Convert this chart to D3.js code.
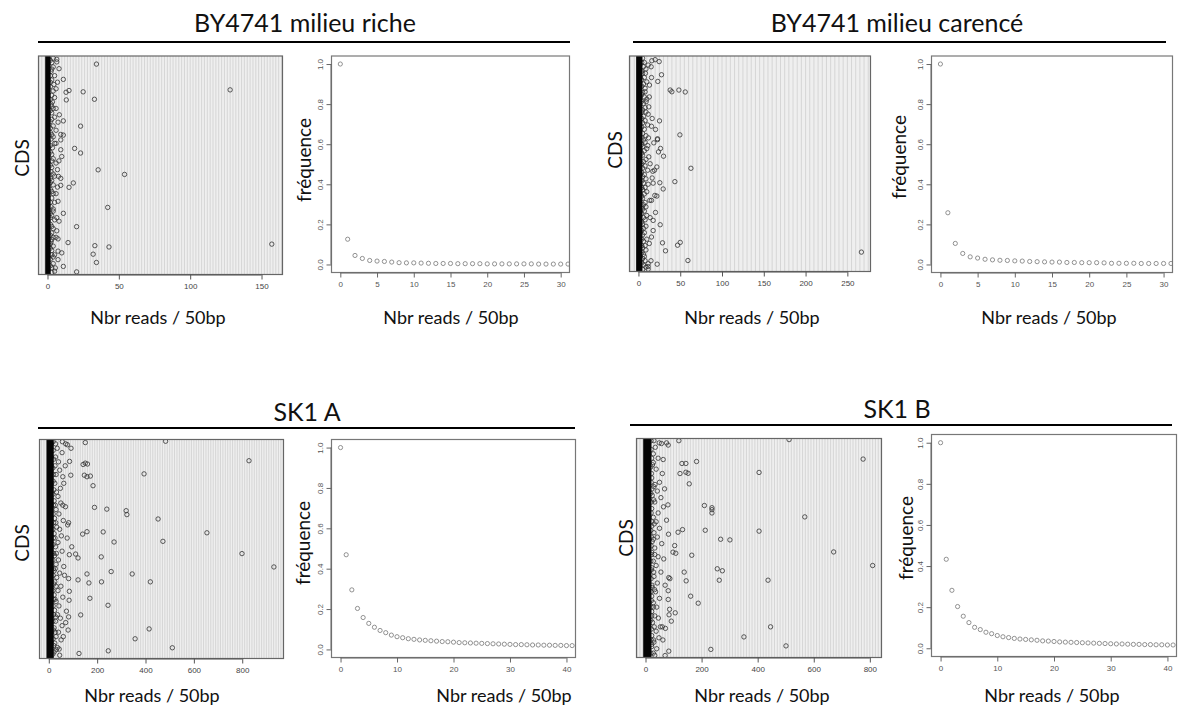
<!DOCTYPE html>
<html><head><meta charset="utf-8">
<script src="https://cdn.jsdelivr.net/npm/d3@7"></script>
<style>
html,body{margin:0;padding:0;background:#fff;}
svg{display:block;}
</style></head>
<body>
<svg id="chart" width="1178" height="709"></svg>
<script>
// ---------------- DATA ----------------
const groupTitles = ["BY4741 milieu riche", "BY4741 milieu carencé", "SK1 A", "SK1 B"];
const xAxisTitle = "Nbr reads / 50bp";
const scatterYTitle = "CDS";
const freqYTitle = "fréquence";

const scatterTicks = [[0, 50, 100, 150], [0, 50, 100, 150, 200, 250], [0, 200, 400, 600, 800], [0, 200, 400, 600, 800]];
const freqXTicks = [[0, 5, 10, 15, 20, 25, 30], [0, 5, 10, 15, 20, 25, 30], [0, 10, 20, 30, 40], [0, 10, 20, 30, 40]];
const freqYTicks = [0, 0.2, 0.4, 0.6, 0.8, 1.0];

// dense band of overlapping points near zero [min reads, max reads]
const bandRiche = [0, 0.6];
const bandCarence = [0, 2];
const bandSK1A = [0, 11];
const bandSK1B = [0, 13];

// scatter points: [reads per 50bp, CDS position (% of list)]
const readsRiche = [
 [34.3,96.3],[128,84.5],[15.1,84.2],[25,83.6],[13,83.4],[32.9,80.2],[13.2,79.9],[11.1,89.3],[8.1,94.2],[6.5,98.5],
 [6.5,97.3],[8.3,73.1],[11.1,70.3],[7.4,69.7],[23.2,67.9],[11.1,63.8],[9.3,64.1],[9.3,61.6],[19,57.7],[23.2,55.6],
 [9.3,57.1],[10,54],[35.5,47.9],[54,45.8],[7.7,44.9],[9.3,44],[9.3,40.8],[18.1,41.9],[15.1,39.9],[7.4,33.5],
 [42.2,30.7],[11.1,28],[8.1,24.4],[20.4,21.9],[7.4,16.3],[157.2,13.9],[14.4,14.6],[33.2,13.2],[43.1,12.6],[7.4,10.7],
 [10,9.9],[32,9.3],[34.3,5.5],[11.1,3.7],[20.4,1.2],[7.4,6.8],
 [3,97],[4,95],[2.5,93],[5,91],[3,89],[4.5,87],[2,86],[6,85],[3,82],[5,81],[2.5,78],[4,76],[3,74],[5,72],[2,70],
 [4,68],[6,66],[3,64],[2.5,62],[5,60],[3.5,58],[2,56],[4,53],[6,51],[3,49],[2.5,47],[5,45],[3,43],[4,41],[2,39],
 [6,37],[3,35],[5,33],[2.5,31],[4,29],[3,27],[5,25],[2,23],[4,21],[3,19],[6,17],[2.5,15],[4,13],[3,11],[5,9],
 [2,7],[4,5],[3,3],[5,1.5],[7,48],[8,52],[6.5,26],[7,88],[6,60],[4,99],[2,91],[3.5,79],[2,65],[3,52],[2,44],
 [4,37],[2,28],[3,16],[2,12],[4,8],[6,76],[7,40],[6.5,20],[5.5,3],
 [2,98],[3,94],[2,88],[4,84],[2,80],[3,77],[2,75],[3,71],[2,67],[4,63],[2,59],[3,55],[2,50],[4,46],[2,42],
 [3,38],[2,33],[4,30],[2,26],[3,22],[2,18],[4,17],[2,14],[3,9],[2,4],[3,1]
];
const readsCarence = [
 [266.8,9],[59.2,5.1],[50,13.5],[46.8,12.2],[28.8,13.3],[32.4,9.6],[22.4,3.4],[11.6,3.6],[11.6,2.3],[11.6,1.1],
 [26,21.7],[20.4,27.4],[17.6,23.7],[17.6,19],[15.6,16],[13.6,33],[15.6,33],[22,35],[19.6,35.3],[29.6,38.3],
 [25.6,41.2],[43.6,41.7],[17.6,41],[16.4,43.4],[11.6,40.5],[62.8,47.9],[22,48.5],[19.2,47],[17.2,46.5],[30,53.5],
 [26.4,57.1],[24,55.5],[12.4,53.2],[18.4,59.7],[11.2,58.4],[49.6,63.4],[22.8,61.2],[22.8,61.6],[20.4,65.9],[15.6,67.4],
 [25.2,69.9],[16.4,71],[11.6,73],[38,84.2],[40,83.4],[48.4,84.2],[56,83.3],[27.6,91.3],[15.6,90],[23.2,88.2],
 [13.2,86.5],[8,83.4],[20,98.3],[24.8,97.4],[16,97.8],[15.2,95],[11.6,95.8],[8.4,92],[12.4,76.4],[9.2,78.8],
 [5,99],[7,97],[6,95],[9,94],[5,92],[7,90],[10,88],[6,87],[8,85],[5,83],[7,81],[10,80],[6,78],[8,76],[5,75],
 [9,74],[6,72],[8,70],[5,69],[11,68],[7,66],[5,64],[9,63],[6,61],[8,60],[5,58],[10,57],[7,56],[5,54],[9,52],
 [6,51],[8,49],[5,48],[11,47],[7,45],[5,44],[9,43],[6,41],[8,39],[5,38],[10,37],[7,36],[5,34],[8,32],[6,31],
 [9,30],[5,29],[7,28],[10,26],[6,25],[8,24],[5,22],[9,21],[6,20],[7,18],[5,17],[10,15],[6,14],[8,12],[5,11],
 [9,10],[6,8],[7,7],[5,6],[8,5],[6,3],[9,2],[5,1],[13,13],[14,50],[12,62],[13,81],[14,25],[15,5],
 [4,97],[4,93],[4,89],[4,86],[4,82],[4,79],[4,74],[4,71],[4,67],[4,62],[4,59],[4,55],[4,50],[4,46],[4,42],
 [4,39],[4,35],[4,30],[4,27],[4,23],[4,19],[4,15],[4,12],[4,9],[4,4]
];
const readsSK1A = [
 [483,99.2],[151,98.6],[828,90.3],[394,84.3],[183,78.9],[189,69],[240,68.2],[320,67.5],[323,65.7],[452,63.7],
 [654,57.4],[472,53.5],[270,53.2],[225,57.8],[158,57.9],[140,56.8],[799,47.9],[931,41.8],[217,46.4],[121,45.9],
 [111,47.7],[345,38.6],[258,39.7],[158,38.6],[420,35],[218,35],[166,34.5],[121,35.9],[170,27.5],[245,24.3],
 [132,19.9],[415,13.5],[357,9],[511,4.9],[246,3.5],[125,2.3],[151,89.2],[160,88.8],[142,88.6],[147,83.7],
 [158,83],[172,83.3],[86,90],[91,83.7],[58,83],[82,62],[78,61],[95,51],[76,55],[85,47.4],[82,36.5],[85,30.7],
 [84,26.6],[82,19],[80,13],[73,21.6],[70,16.4],[92,96],[77,97.6],[56,99],[40,89.8],[48,77.7],[69,69.3],[52,56],
 [48,18.4],[51,8.5],[43,4.3],[70,98],[55,94],[35,96],[28,92],[45,86],[30,84],[62,80],[25,80],[38,74],[22,72],
 [50,71],[30,68],[42,66],[24,64],[60,63],[33,60],[45,59],[22,57],[38,53],[28,51],[55,49],[24,47],[40,45],
 [30,43],[62,42],[22,40],[45,39],[33,37],[25,35],[50,33],[38,31],[22,29],[58,28],[30,26],[42,24],[24,22],
 [36,20],[28,17],[55,15],[22,14],[40,12],[30,10],[60,10],[25,7],[36,5],[22,3],[45,1.5],[65,38],[58,70],[68,88],
 [18,99],[18,95],[20,91],[17,87],[19,84],[18,81],[21,77],[17,75],[19,70],[18,66],[20,62],[17,59],[19,55],
 [18,52],[20,48],[17,45],[19,41],[18,38],[21,34],[17,31],[19,27],[18,24],[20,20],[17,17],[19,13],[18,9],
 [20,6],[17,2],[28,98],[26,88],[32,76],[27,70],[29,62],[26,55],[31,48],[27,41],[30,33],[26,27],[29,19],[27,12],[31,4]
];
const readsSK1B = [
 [512,99.5],[119,99],[776,90.6],[182,89.5],[130,88.6],[144,88.6],[405,84.5],[123,84],[144,84.6],[152,84.1],
 [156,79.3],[60,84],[63,90.4],[75,98],[81,97],[57,97.7],[49,98],[210,69.4],[237,68.4],[237,67.5],[237,66],
 [568,64.2],[80,69.7],[64,68.8],[75,62.7],[132,58.4],[116,57.2],[213,58.1],[405,57.7],[268,54],[301,53.7],
 [82,56.3],[104,51.1],[98,48.1],[108,47.6],[165,46.7],[671,48.2],[810,42],[256,40.5],[274,39.6],[263,35.3],
 [437,35.3],[138,39],[145,35],[83,36.5],[87,36],[161,28],[188,24.8],[86,22],[84,19.5],[106,20.4],[92,16.6],
 [446,14],[351,9.4],[501,5.3],[233,3.7],[83,2.9],[70,0.9],[60,14],[71,13.3],[53,14],[81,30.5],[81,26.5],
 [35,96],[28,93],[45,91],[25,88],[38,86],[22,82],[50,80],[30,78],[42,76],[24,74],[55,73],[33,71],[22,68],
 [45,66],[28,64],[38,62],[22,60],[50,59],[30,57],[42,55],[24,53],[58,52],[33,50],[22,48],[45,46],[28,44],
 [38,42],[22,41],[55,39],[30,37],[42,34],[24,32],[36,30],[22,28],[50,27],[28,25],[40,23],[22,21],[33,19],
 [46,18],[25,16],[38,12],[22,10],[48,9],[30,7],[22,5],[40,4],[28,2],[65,45],[70,33],[62,8],[68,77],
 [20,99],[20,95],[22,91],[19,87],[21,84],[20,80],[23,77],[19,75],[21,71],[20,66],[22,62],[19,58],[21,55],
 [20,51],[22,47],[19,44],[21,40],[20,36],[23,33],[19,30],[21,26],[20,23],[22,19],[19,17],[21,13],[20,8],
 [22,6],[19,2],[30,99],[28,89],[34,79],[29,72],[31,61],[28,54],[33,47],[29,39],[32,31],[28,23],[31,14],[29,8],[33,1]
];

// frequency of CDS vs number of reads (index = reads)
const freqRiche = [1.0,0.126,0.045,0.030,0.020,0.017,0.015,0.012,0.009,0.008,0.008,0.007,0.006,0.005,0.005,0.005,
 0.004,0.004,0.004,0.004,0.003,0.003,0.003,0.003,0.003,0.003,0.003,0.002,0.002,0.002,0.002,0.002];
const freqCarence = [1.0,0.258,0.105,0.055,0.038,0.032,0.026,0.023,0.021,0.020,0.018,0.017,0.015,0.014,0.013,0.012,
 0.012,0.010,0.010,0.009,0.009,0.009,0.008,0.006,0.006,0.006,0.006,0.005,0.005,0.005,0.005,0.005];
const freqSK1A = [1.0,0.469,0.295,0.203,0.158,0.129,0.110,0.094,0.083,0.071,0.063,0.058,0.053,0.050,0.047,0.045,
 0.043,0.041,0.039,0.038,0.036,0.034,0.033,0.032,0.031,0.030,0.029,0.028,0.027,0.026,0.025,0.024,0.024,0.023,
 0.022,0.022,0.021,0.021,0.020,0.020,0.019,0.019];
const freqSK1B = [1.0,0.433,0.282,0.203,0.156,0.125,0.102,0.091,0.078,0.071,0.062,0.056,0.052,0.048,0.045,0.043,
 0.041,0.039,0.036,0.035,0.033,0.031,0.030,0.029,0.028,0.027,0.026,0.025,0.024,0.023,0.022,0.021,0.021,0.020,
 0.019,0.019,0.018,0.018,0.017,0.017,0.016,0.016];

// ---------------- LAYOUT ----------------
const svg = d3.select("#chart");
const FONT = "Lato, 'Open Sans', sans-serif";
const TICKFONT = "'Liberation Sans', Arial, sans-serif";

const groups = [
 {title: groupTitles[0], tx: 305, ty: 32, line: [38, 570, 42],
  sc: {box: [38.5, 56, 282.5, 274.5], dom: [-6.3, 164.7], pts: readsRiche, band: bandRiche, ticks: scatterTicks[0], ylab: [21, 158], xlab: [158, 324]},
  fq: {box: [331.5, 56, 569.5, 272.5], dom: [-1.2, 31.2], vals: freqRiche, ticks: freqXTicks[0], ylab: [303, 160], xlab: [451, 324]}},
 {title: groupTitles[1], tx: 897, ty: 32, line: [633, 1166, 42],
  sc: {box: [629.5, 56, 870.5, 271.5], dom: [-10.7, 277.7], pts: readsCarence, band: bandCarence, ticks: scatterTicks[1], ylab: [614, 150], xlab: [752, 324]},
  fq: {box: [931.5, 56, 1172.5, 272.5], dom: [-1.2, 31.2], vals: freqCarence, ticks: freqXTicks[1], ylab: [898, 157], xlab: [1049, 324]}},
 {title: groupTitles[2], tx: 307, ty: 421, line: [38, 575, 428],
  sc: {box: [39.5, 439.5, 283.5, 658.5], dom: [-38.4, 970.7], pts: readsSK1A, band: bandSK1A, ticks: scatterTicks[2], ylab: [21, 543], xlab: [152, 702]},
  fq: {box: [331.5, 439.5, 575.5, 657.5], dom: [-1.6, 41.6], vals: freqSK1A, ticks: freqXTicks[2], ylab: [302, 543], xlab: [504, 702]}},
 {title: groupTitles[3], tx: 897, ty: 418, line: [630, 1172, 425],
  sc: {box: [636.5, 438.5, 881.5, 657.5], dom: [-32.1, 841.6], pts: readsSK1B, band: bandSK1B, ticks: scatterTicks[3], ylab: [625, 538], xlab: [762, 702]},
  fq: {box: [931.5, 434.5, 1176.5, 656.5], dom: [-1.6, 41.6], vals: freqSK1B, ticks: freqXTicks[3], ylab: [905, 538], xlab: [1052, 702]}}
];

let clipId = 0;
function clip(box) {
  const id = "clip" + (clipId++);
  svg.append("clipPath").attr("id", id).append("rect")
    .attr("x", box[0]).attr("y", box[1]).attr("width", box[2] - box[0]).attr("height", box[3] - box[1]);
  return "url(#" + id + ")";
}

function xTitle(pos) {
  svg.append("text").attr("x", pos[0]).attr("y", pos[1]).attr("text-anchor", "middle")
    .attr("font-family", FONT).attr("font-size", 18).attr("fill", "#111").text(xAxisTitle);
}
function yTitle(pos, txt) {
  svg.append("text").attr("transform", `translate(${pos[0]},${pos[1]}) rotate(-90)`)
    .attr("text-anchor", "middle").attr("dominant-baseline", "central")
    .attr("font-family", FONT).attr("font-size", 19).attr("fill", "#111").text(txt);
}

groups.forEach(g => {
  // group title + underline
  svg.append("text").attr("x", g.tx).attr("y", g.ty).attr("text-anchor", "middle")
    .attr("font-family", FONT).attr("font-size", 25).attr("fill", "#111").text(g.title);
  svg.append("line").attr("x1", g.line[0]).attr("x2", g.line[1]).attr("y1", g.line[2]).attr("y2", g.line[2])
    .attr("stroke", "#000").attr("stroke-width", 2);

  // ---------- scatter ----------
  const s = g.sc;
  const x = d3.scaleLinear().domain(s.dom).range([s.box[0], s.box[2]]);
  const y = d3.scaleLinear().domain([0, 100]).range([s.box[3], s.box[1]]);
  const cp = clip(s.box);
  const sg = svg.append("g").attr("clip-path", cp);
  sg.append("rect").attr("x", s.box[0]).attr("y", s.box[1]).attr("width", s.box[2] - s.box[0]).attr("height", s.box[3] - s.box[1])
    .attr("fill", "#efefef");
  sg.selectAll("line.grid").data(x.ticks(90)).join("line").attr("class", "grid")
    .attr("x1", d => x(d)).attr("x2", d => x(d)).attr("y1", s.box[1]).attr("y2", s.box[3])
    .attr("stroke", "#d2d2d2").attr("stroke-width", 0.9);
  sg.selectAll("circle.pt").data(s.pts).join("circle").attr("class", "pt")
    .attr("cx", d => x(d[0])).attr("cy", d => y(d[1])).attr("r", 2.2)
    .attr("fill", "none").attr("stroke", "#333").attr("stroke-width", 0.8);
  sg.append("rect").attr("x", x(s.band[0]) - 2.3).attr("y", s.box[1])
    .attr("width", x(s.band[1]) - x(s.band[0]) + 4.6).attr("height", s.box[3] - s.box[1]).attr("fill", "#050505");
  svg.append("rect").attr("x", s.box[0]).attr("y", s.box[1]).attr("width", s.box[2] - s.box[0]).attr("height", s.box[3] - s.box[1])
    .attr("fill", "none").attr("stroke", "#666").attr("stroke-width", 1.2);
  const sax = d3.axisBottom(x).tickValues(s.ticks).tickSize(5).tickPadding(4).tickFormat(d3.format("d"));
  const ga = svg.append("g").attr("transform", `translate(0,${s.box[3]})`).call(sax);
  ga.select(".domain").attr("d", `M${x(s.ticks[0])},0.5H${x(s.ticks[s.ticks.length - 1])}`).attr("stroke", "#555");
  ga.selectAll(".tick line").attr("stroke", "#555");
  ga.selectAll(".tick text").attr("font-family", TICKFONT).attr("font-size", 8).attr("fill", "#444");
  yTitle(s.ylab, scatterYTitle);
  xTitle(s.xlab);

  // ---------- frequency ----------
  const f = g.fq;
  const fx = d3.scaleLinear().domain(f.dom).range([f.box[0], f.box[2]]);
  const fy = d3.scaleLinear().domain([-0.04, 1.04]).range([f.box[3], f.box[1]]);
  const fcp = clip(f.box);
  svg.append("g").attr("clip-path", fcp).selectAll("circle").data(f.vals).join("circle")
    .attr("cx", (d, i) => fx(i)).attr("cy", d => fy(d)).attr("r", 2.1)
    .attr("fill", "none").attr("stroke", "#777").attr("stroke-width", 0.8);
  svg.append("rect").attr("x", f.box[0]).attr("y", f.box[1]).attr("width", f.box[2] - f.box[0]).attr("height", f.box[3] - f.box[1])
    .attr("fill", "none").attr("stroke", "#777").attr("stroke-width", 1.2);
  const fxa = d3.axisBottom(fx).tickValues(f.ticks).tickSize(5).tickPadding(4).tickFormat(d3.format("d"));
  const gx = svg.append("g").attr("transform", `translate(0,${f.box[3]})`).call(fxa);
  gx.select(".domain").attr("d", `M${fx(f.ticks[0])},0.5H${fx(f.ticks[f.ticks.length - 1])}`).attr("stroke", "#666");
  gx.selectAll(".tick line").attr("stroke", "#666");
  gx.selectAll(".tick text").attr("font-family", TICKFONT).attr("font-size", 8).attr("fill", "#555");
  const fya = d3.axisLeft(fy).tickValues(freqYTicks).tickSize(5).tickPadding(3).tickFormat(d3.format(".1f"));
  const gy = svg.append("g").attr("transform", `translate(${f.box[0]},0)`).call(fya);
  gy.select(".domain").attr("d", `M-0.5,${fy(0)}V${fy(1)}`).attr("stroke", "#666");
  gy.selectAll(".tick line").attr("stroke", "#666");
  gy.selectAll(".tick text").attr("font-family", TICKFONT).attr("font-size", 8).attr("fill", "#555")
    .attr("text-anchor", "middle").attr("transform", "translate(-11,0) rotate(-90)").attr("x", 0).attr("dy", "0.32em");
  yTitle(f.ylab, freqYTitle);
  xTitle(f.xlab);
});
</script>
</body></html>
